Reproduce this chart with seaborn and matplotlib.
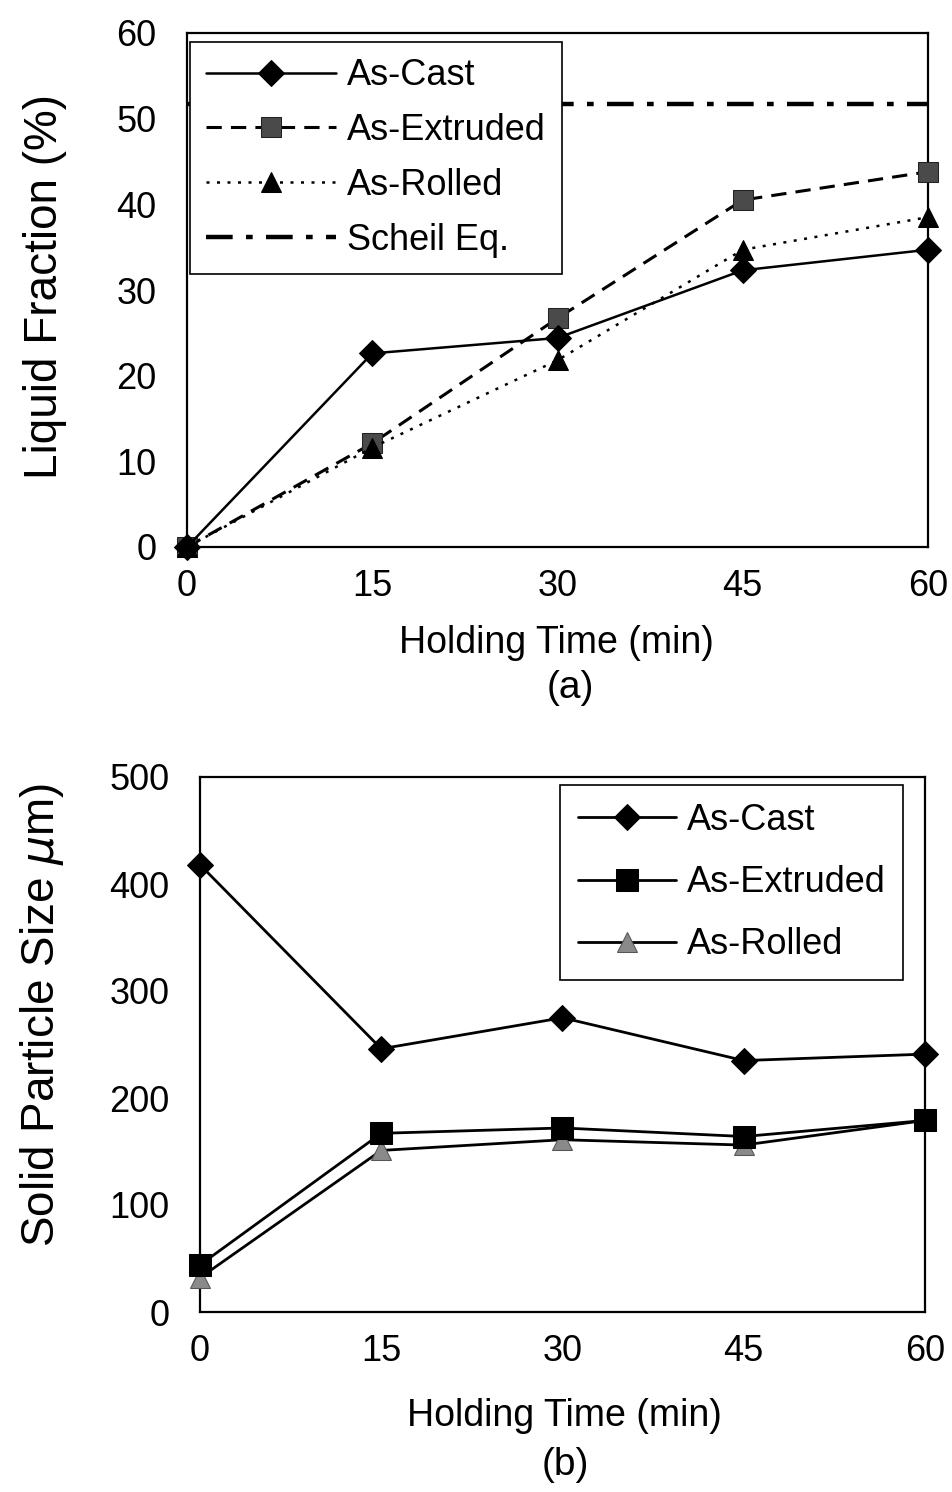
import matplotlib
matplotlib.use("Agg")
import matplotlib.pyplot as plt
import seaborn as sns
import numpy as np
import pandas as pd

# ---- data ----
time_min = [0, 15, 30, 45, 60]
liq_as_cast = [0, 22.6, 24.4, 32.3, 34.7]
liq_as_extruded = [0, 12.1, 26.7, 40.5, 43.8]
liq_as_rolled = [0, 11.6, 21.8, 34.7, 38.5]
scheil_eq = 51.7

size_as_cast = [418, 246, 275, 235, 241]
size_as_extruded = [44, 167, 172, 164, 179]
size_as_rolled = [32, 151, 161, 156, 179]

liq_ticks = [0, 10, 20, 30, 40, 50, 60]
size_ticks = [0, 100, 200, 300, 400, 500]
time_ticks = [0, 15, 30, 45, 60]

sns.set_style("white")
plt.rcParams['font.family'] = ['Liberation Sans', 'DejaVu Sans']
for k in ('text.color', 'axes.labelcolor', 'xtick.color', 'ytick.color'):
    plt.rcParams[k] = 'black'

W, H = 953, 1492
fig = plt.figure(figsize=(W / 100, H / 100), dpi=100)

ax1 = fig.add_axes([187 / W, 1 - 547 / H, (928 - 187) / W, (547 - 33) / H])
ax2 = fig.add_axes([200 / W, 1 - 1312 / H, (925 - 200) / W, (1312 - 777) / H])

TICK_FS = 26
XLAB_FS = 27
YLAB_FS = 33
LEG_FS = 26

# ---- (a) liquid fraction ----
sns.lineplot(x=time_min, y=liq_as_cast, ax=ax1, color='black', lw=1.8,
             marker='D', markersize=13, markeredgecolor='black',
             label='As-Cast', clip_on=False, zorder=5)
sns.lineplot(x=time_min, y=liq_as_extruded, ax=ax1, color='black', lw=2.2,
             linestyle=(0, (5, 3)), marker='s', markersize=15,
             markerfacecolor='#4a4a4a', markeredgecolor='#222222',
             label='As-Extruded', clip_on=False, zorder=4)
sns.lineplot(x=time_min, y=liq_as_rolled, ax=ax1, color='black', lw=1.8,
             linestyle=(0, (1.2, 3)), marker='^', markersize=15,
             markeredgecolor='black',
             label='As-Rolled', clip_on=False, zorder=4)
scheil_line = ax1.axhline(scheil_eq, color='black', lw=3.2,
                          linestyle=(0, (6, 3, 1.5, 3)), zorder=2)
scheil_line.set_label('Scheil Eq.')

ax1.set_xlim(0, 60)
ax1.set_ylim(0, 60)
ax1.set_xticks(time_ticks)
ax1.set_yticks(liq_ticks)
ax1.set_xlabel('Holding Time (min)', fontsize=XLAB_FS)
ax1.set_ylabel('Liquid Fraction (%)', fontsize=YLAB_FS)
ax1.xaxis.set_label_coords(0.499, -0.152)
ax1.yaxis.set_label_coords(-0.162, 0.506)

h, l = ax1.get_legend_handles_labels()
leg1 = ax1.legend(h, l, loc='upper left', bbox_to_anchor=(0.004, 0.9825),
                  fontsize=LEG_FS, frameon=True, fancybox=False,
                  edgecolor='black', framealpha=1, handlelength=3.6,
                  handletextpad=0.3, labelspacing=0.55, borderpad=0.45,
                  borderaxespad=0)
leg1.get_frame().set_linewidth(1.2)
leg1.set_zorder(10)

# ---- (b) solid particle size ----
sns.lineplot(x=time_min, y=size_as_cast, ax=ax2, color='black', lw=2,
             marker='D', markersize=13, markeredgecolor='black',
             label='As-Cast', clip_on=False, zorder=5)
sns.lineplot(x=time_min, y=size_as_extruded, ax=ax2, color='black', lw=2,
             marker='s', markersize=16, markeredgecolor='black',
             label='As-Extruded', clip_on=False, zorder=5)
sns.lineplot(x=time_min, y=size_as_rolled, ax=ax2, color='black', lw=2,
             marker='^', markersize=15, markerfacecolor='#8a8a8a',
             markeredgecolor='#555555',
             label='As-Rolled', clip_on=False, zorder=4)

ax2.set_xlim(0, 60)
ax2.set_ylim(0, 500)
ax2.set_xticks(time_ticks)
ax2.set_yticks(size_ticks)
ax2.set_xlabel('Holding Time (min)', fontsize=XLAB_FS)
ax2.set_ylabel('Solid Particle Size $\\mu$m)', fontsize=YLAB_FS)
ax2.xaxis.set_label_coords(0.503, -0.160)
ax2.yaxis.set_label_coords(-0.185, 0.555)

h, l = ax2.get_legend_handles_labels()
leg2 = ax2.legend(h, l, loc='upper right', bbox_to_anchor=(0.97, 0.985),
                  fontsize=LEG_FS, frameon=True, fancybox=False,
                  edgecolor='black', framealpha=1, handlelength=2.7,
                  handletextpad=0.3, labelspacing=0.75, borderpad=0.5,
                  borderaxespad=0)
leg2.get_frame().set_linewidth(1.2)

for ax in (ax1, ax2):
    for sp in ax.spines.values():
        sp.set_visible(True)
        sp.set_color('black')
        sp.set_linewidth(1.6)
    ax.tick_params(axis='both', direction='in', length=7, width=1.2,
                   labelsize=TICK_FS, colors='black')
    ax.tick_params(axis='x', pad=16)
    ax.tick_params(axis='y', pad=22)
    ax.set_facecolor('white')

fig.text(570 / W, 1 - 688 / H, '(a)', ha='center', va='center', fontsize=28)
fig.text(565 / W, 1 - 1465 / H, '(b)', ha='center', va='center', fontsize=28)

fig.savefig('out.png', dpi=100, facecolor='white')
